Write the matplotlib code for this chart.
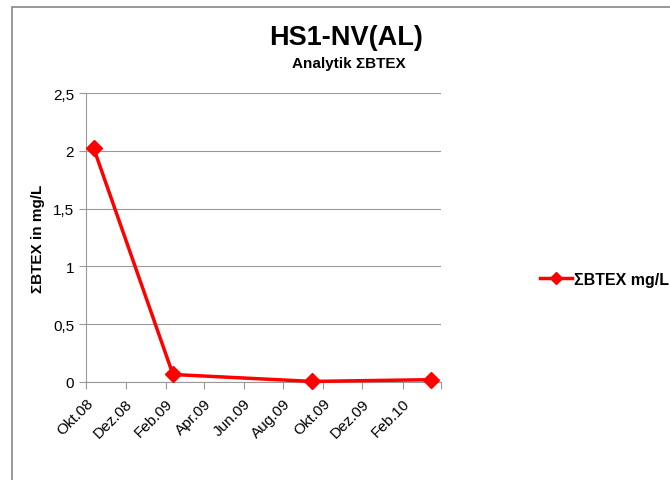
import matplotlib
matplotlib.use("Agg")
import matplotlib.pyplot as plt
import matplotlib.transforms as mtransforms
from matplotlib.patches import Rectangle
import datetime as dt

plt.rcParams['font.family'] = ['Liberation Sans', 'DejaVu Sans']

dates = [dt.date(2008, 10, 13), dt.date(2009, 2, 12), dt.date(2009, 9, 14), dt.date(2010, 3, 16)]
values = [2.02, 0.065, 0.005, 0.02]
tick_labels = ["Okt.08", "Dez.08", "Feb.09", "Apr.09", "Jun.09", "Aug.09", "Okt.09", "Dez.09", "Feb.10"]
tick_dates = [dt.date(2008, 10, 1), dt.date(2008, 12, 1), dt.date(2009, 2, 1), dt.date(2009, 4, 1),
              dt.date(2009, 6, 1), dt.date(2009, 8, 1), dt.date(2009, 10, 1), dt.date(2009, 12, 1),
              dt.date(2010, 2, 1), dt.date(2010, 4, 1)]

W, H = 670, 481
fig = plt.figure(figsize=(W / 100, H / 100), dpi=100)
fig.patches.append(Rectangle((12 / W, -0.1), 1.2, 1 - 8 / H + 0.1, transform=fig.transFigure,
                             fill=False, edgecolor='#888888', linewidth=1.2))

ax = fig.add_axes([86 / W, 1 - 383 / H, (441 - 86) / W, (383 - 94) / H])
ax.plot(dates, values, color='#ff0000', linewidth=2.5, marker='D', markersize=8,
        label='ΣBTEX mg/L', zorder=3, clip_on=False)

ax.set_xlim(tick_dates[0], tick_dates[-1])
ax.set_ylim(0, 2.5)
ax.set_xticks(tick_dates)
ax.set_xticklabels(tick_labels + [""], rotation=45, ha='right', va='top',
                   rotation_mode='anchor', fontsize=11)
offset = mtransforms.ScaledTranslation(5 / 100, 0, fig.dpi_scale_trans)
for lab in ax.get_xticklabels():
    lab.set_transform(lab.get_transform() + offset)
yt = [0, 0.5, 1, 1.5, 2, 2.5]
ax.set_yticks(yt)
ax.set_yticklabels(["0", "0,5", "1", "1,5", "2", "2,5"], fontsize=11)
ax.yaxis.grid(True, color='#999999', linewidth=0.8)
ax.set_axisbelow(True)
for s in ['top', 'right']:
    ax.spines[s].set_visible(False)
for s in ['left', 'bottom']:
    ax.spines[s].set_color('#999999')
ax.tick_params(axis='both', direction='out', color='#999999', length=5)
ax.tick_params(axis='x', pad=5)
ax.set_ylabel('ΣBTEX in mg/L', fontsize=11, fontweight='bold', labelpad=6)

fig.text(346 / W, 1 - 38 / H, 'HS1-NV(AL)', ha='center', va='center', fontsize=19.5, fontweight='bold')
fig.text(349 / W, 1 - 64 / H, 'Analytik ΣBTEX', ha='center', va='center', fontsize=11, fontweight='bold')

leg = fig.legend(loc='center left', bbox_to_anchor=(540 / W, 1 - 280 / H), frameon=False,
                 prop={'weight': 'bold', 'size': 11.5}, handlelength=2.0, handletextpad=0.15,
                 borderpad=0, borderaxespad=0, markerscale=0.8)

fig.savefig('out.png', dpi=100)
